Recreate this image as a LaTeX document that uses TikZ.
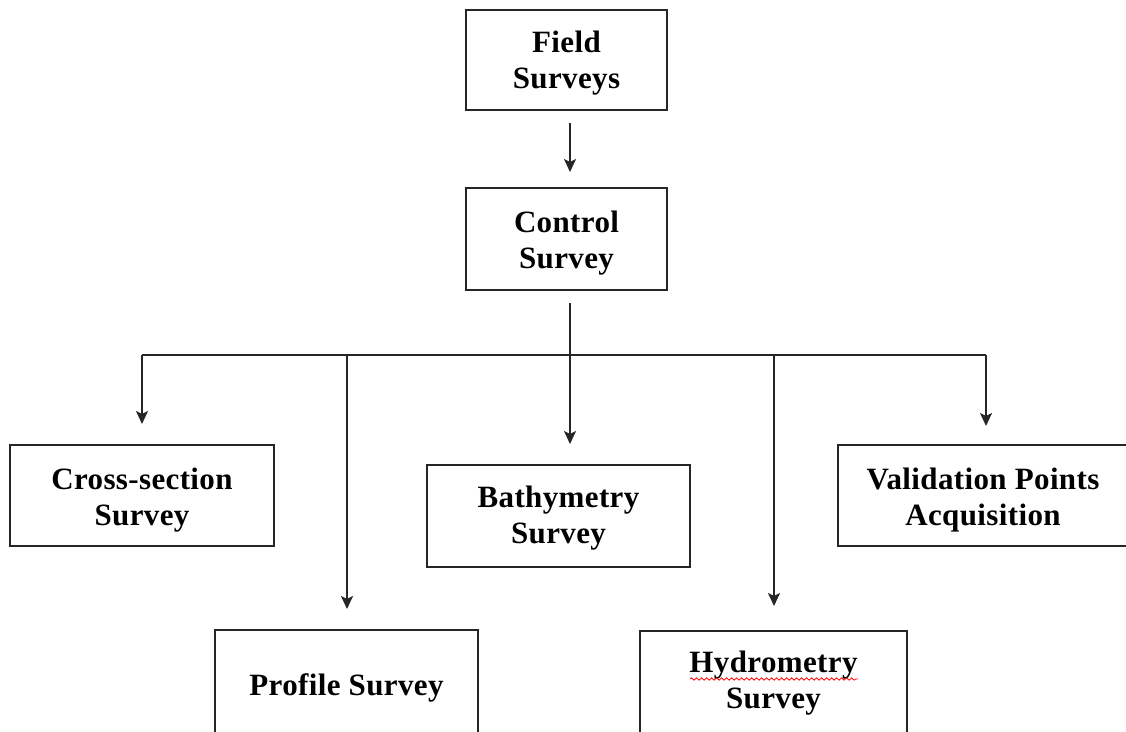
\documentclass[tikz,border=0pt]{standalone}
\usepackage{fontspec}
\setmainfont[LetterSpace=1.2]{Liberation Serif}
\usetikzlibrary{arrows.meta,calc,decorations.pathmorphing}
\begin{document}
\begin{tikzpicture}[x=1pt,y=-1pt,
  txt/.style={align=center,inner sep=0pt,font=\bfseries\fontsize{31}{36}\selectfont},
  box/.style={draw=black!85,line width=2pt,rectangle,inner sep=0pt},
  conn/.style={draw=black!85,line width=2pt},
  arr/.style={conn,-{Stealth[length=13pt,width=12pt,inset=3pt]},shorten >=20pt}]
\useasboundingbox (0,0) rectangle (1126,731);
\clip (0,0) rectangle (1126,731);
\node[box,minimum width=201,minimum height=100,
  label={[txt,yshift=-3pt]center:Field\\Surveys}] (field) at (566.5,60) {};
\node[box,minimum width=201,minimum height=102,
  label={[txt,yshift=-4pt]center:Control\\Survey}] (control) at (566.5,239) {};
\node[box,minimum width=264,minimum height=101,
  label={[txt,yshift=-5pt]center:Cross-section\\Survey}] (cross) at (142,495.5) {};
\node[box,minimum width=263,minimum height=102,
  label={[txt,yshift=-2pt]center:Bathymetry\\Survey}] (bathy) at (558.5,516) {};
\node[box,minimum width=290,minimum height=101,
  label={[txt,yshift=-5pt]center:Validation Points\\Acquisition}] (valid) at (983,495.5) {};
\node[box,minimum width=263,minimum height=110,
  label={[txt,yshift=-3pt]center:Profile Survey}] (profile) at (346.5,685) {};
\node[box,minimum width=267,minimum height=106,
  label={[txt,yshift=1pt]center:Hydrometry\\Survey}] (hydro) at (773.5,684) {};
\draw[red,line width=0.8pt,decorate,decoration={snake,amplitude=1.2pt,segment length=5pt}]
  (690,679) -- (858,679);
\coordinate (top) at (570,110);
\coordinate (bus) at (570,355);
\coordinate (b1) at (142,355);
\coordinate (b2) at (347,355);
\coordinate (b4) at (774,355);
\coordinate (b5) at (986,355);
\draw[arr,shorten <=12pt,shorten >=15pt] (top |- field.south) -- (top |- control.north);
\draw[conn,shorten <=12pt] (bus |- control.south) -- (bus);
\draw[conn] (b1) -- (b5);
\draw[arr] (b1) -- (b1 |- cross.north);
\draw[arr] (b2) -- (b2 |- profile.north);
\draw[arr] (bus) -- (bus |- bathy.north);
\draw[arr,shorten >=24pt] (b4) -- (b4 |- hydro.north);
\draw[arr,shorten >=18pt] (b5) -- (b5 |- valid.north);
\end{tikzpicture}
\end{document}
